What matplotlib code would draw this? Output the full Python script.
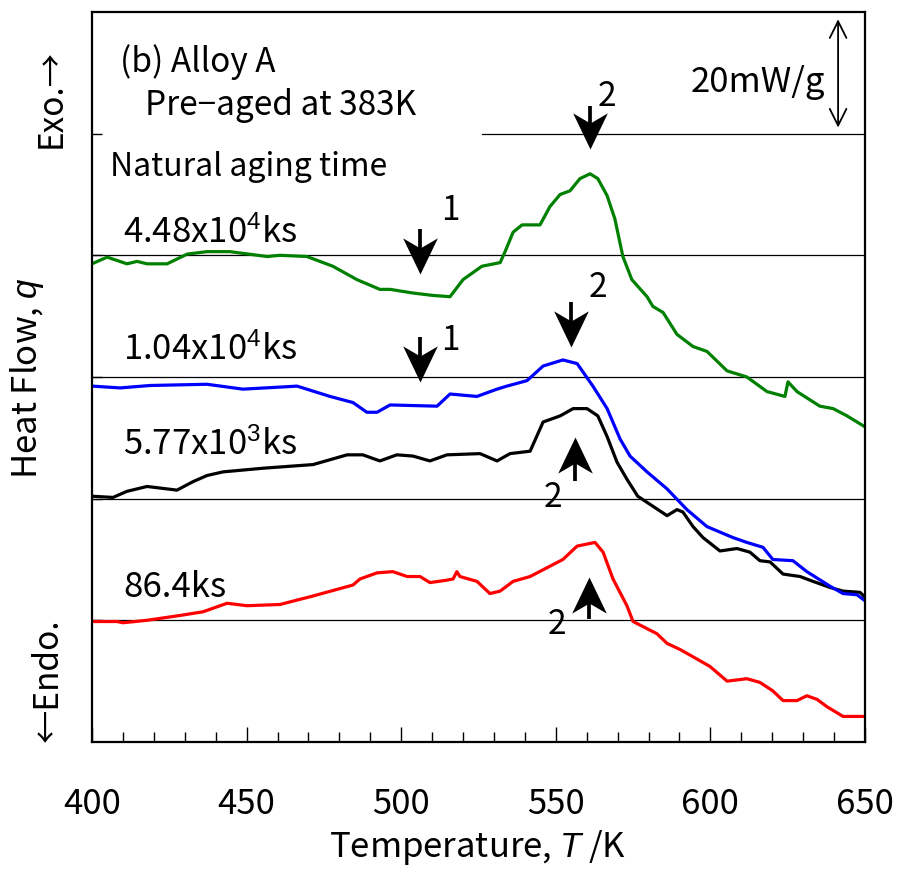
import numpy as np
import matplotlib
matplotlib.use("Agg")
import matplotlib.pyplot as plt
from matplotlib.path import Path

plt.rcParams['font.family'] = ['Noto Sans CJK JP', 'DejaVu Sans']
plt.rcParams['mathtext.fontset'] = 'custom'
plt.rcParams['mathtext.rm'] = 'Liberation Sans'
plt.rcParams['mathtext.it'] = 'Liberation Sans:italic'

# DSC traces (temperature in K, offset heat flow in arbitrary units)
t_green = [400, 404.9, 411.3, 414.6, 417.8, 424.3, 430.8, 437.2, 444.6, 456.6, 460.8, 469.5,
           477.9, 485.7, 493.1, 496.4, 503.8, 510.3, 515.8, 520.0, 526.1, 532.0, 533.6, 536.2,
           539.1, 544.9, 548.1, 551.4, 554.6, 557.8, 561.1, 563.6, 566.6, 569.1, 571.7, 574.6,
           579.5, 581.4, 584.7, 589.2, 594.4, 598.9, 605.4, 611.8, 618.3, 624.1, 625.1, 628.0,
           635.4, 639.7, 644.2, 650]
q_green = [3.93, 3.985, 3.93, 3.95, 3.93, 3.93, 4.01, 4.03, 4.03, 3.99, 4.00, 3.99,
           3.91, 3.80, 3.72, 3.72, 3.69, 3.67, 3.66, 3.80, 3.91, 3.94, 4.03, 4.19,
           4.25, 4.25, 4.40, 4.50, 4.53, 4.63, 4.67, 4.63, 4.49, 4.30, 3.99, 3.80,
           3.66, 3.58, 3.53, 3.35, 3.25, 3.21, 3.05, 3.00, 2.88, 2.84, 2.96, 2.88,
           2.76, 2.74, 2.68, 2.59]

t_blue = [400, 409.1, 418.8, 437.2, 448.8, 463.1, 466.3, 477.0, 484.4, 488.9, 492.2, 496.4,
          511.6, 515.8, 524.5, 531.0, 534.2, 540.7, 545.9, 552.3, 556.9, 562.0, 566.6, 570.8,
          574.0, 579.5, 586.0, 592.4, 598.9, 607.3, 611.8, 617.0, 620.2, 626.7, 631.2, 638.7,
          642.9, 647.4, 650]
q_blue = [2.925, 2.91, 2.93, 2.94, 2.90, 2.92, 2.925, 2.84, 2.79, 2.71, 2.71, 2.77,
          2.76, 2.86, 2.84, 2.90, 2.925, 2.97, 3.09, 3.14, 3.11, 2.925, 2.74, 2.49,
          2.35, 2.22, 2.08, 1.91, 1.77, 1.68, 1.64, 1.60, 1.50, 1.49, 1.40, 1.28,
          1.22, 1.21, 1.16]

t_black = [400, 406.8, 411.3, 417.8, 427.5, 432.7, 437.2, 442.4, 455.3, 471.5, 482.5, 487.6,
           493.1, 498.6, 503.8, 509.3, 514.8, 525.5, 531.0, 535.2, 541.7, 545.9, 551.4, 555.6,
           560.1, 563.6, 566.6, 569.8, 573.0, 576.5, 586.0, 589.2, 591.1, 594.4, 597.6, 603.1,
           608.6, 612.8, 616.0, 619.3, 623.5, 629.0, 633.2, 638.7, 642.9, 648.4, 650]
q_black = [2.02, 2.01, 2.06, 2.10, 2.07, 2.14, 2.19, 2.22, 2.25, 2.28, 2.36, 2.36,
           2.31, 2.36, 2.35, 2.31, 2.36, 2.37, 2.31, 2.37, 2.39, 2.63, 2.68, 2.74,
           2.74, 2.68, 2.51, 2.30, 2.16, 2.02, 1.86, 1.91, 1.89, 1.77, 1.68, 1.57,
           1.59, 1.56, 1.49, 1.48, 1.38, 1.36, 1.32, 1.27, 1.24, 1.23, 1.19]

t_red = [400, 408.1, 410.0, 417.8, 428.5, 435.9, 443.7, 450.1, 460.8, 471.5, 484.4, 486.7,
         492.2, 497.3, 501.9, 506.1, 509.3, 514.8, 516.8, 518.0, 519.0, 524.5, 528.7, 532.0,
         536.2, 541.7, 552.3, 556.9, 562.7, 565.3, 568.5, 573.0, 575.0, 582.7, 586.0, 590.2,
         594.4, 599.9, 605.4, 611.8, 616.0, 620.2, 623.5, 628.0, 631.2, 634.5, 637.7, 642.9,
         646.1, 650]
q_red = [0.99, 0.99, 0.98, 1.00, 1.04, 1.07, 1.14, 1.12, 1.13, 1.20, 1.29, 1.34,
         1.39, 1.40, 1.36, 1.36, 1.31, 1.33, 1.34, 1.40, 1.36, 1.32, 1.22, 1.24,
         1.32, 1.36, 1.50, 1.61, 1.64, 1.56, 1.34, 1.12, 0.99, 0.89, 0.81, 0.76,
         0.70, 0.62, 0.50, 0.52, 0.49, 0.42, 0.34, 0.34, 0.38, 0.35, 0.29, 0.21,
         0.21, 0.21]

baselines = [1, 2, 3, 4]
time_labels = ["86.4ks", "5.77x10$^{3}$ks", "1.04x10$^{4}$ks", "4.48x10$^{4}$ks"]
label_y = [1.28, 2.45, 3.23, 4.19]

# peak arrows: x, tail y, tip y, label, label x, label y
arr_x = [506.1, 561.1, 506.1, 554.9, 556.2, 560.7]
arr_tail = [4.215, 5.226, 3.33, 3.615, 2.145, 1.01]
arr_tip = [3.845, 4.873, 2.96, 3.25, 2.506, 1.356]
arr_lab = ["1", "2", "1", "2", "2", "2"]
lab_x = [515.8, 566.6, 515.8, 563.6, 549.1, 550.4]
lab_y = [4.38, 5.31, 3.31, 3.74, 2.02, 0.97]

fig = plt.figure(figsize=(9, 8.7), dpi=100)
ax = fig.add_axes([0.1022, 0.146, 0.8589, 0.8391])

for yb in baselines:
    ax.axhline(yb, color='black', lw=0.9, zorder=1)
ax.plot([526.1, 650], [5, 5], color='black', lw=0.9, zorder=1)

ax.plot(t_red, q_red, color='#ff0000', lw=2.3)
ax.plot(t_black, q_black, color='black', lw=2.3)
ax.plot(t_blue, q_blue, color='#0000ff', lw=2.3)
ax.plot(t_green, q_green, color='#008000', lw=2.3)

for lab, yl in zip(time_labels, label_y):
    ax.text(410.0, yl, lab, fontsize=25, va='center', ha='left')

ax.text(409.1, 5.60, "(b) Alloy A", fontsize=24, va='center')
ax.text(417.1, 5.24, "Pre\u2212aged at 383K", fontsize=24, va='center')
ax.text(405.8, 4.73, "Natural aging time", fontsize=23, va='center')

# notched arrow heads (tip at origin)
head_up = Path([(0, 0), (-0.48, -1), (0, -0.72), (0.48, -1), (0, 0)],
               [Path.MOVETO, Path.LINETO, Path.LINETO, Path.LINETO, Path.CLOSEPOLY])
head_down = Path([(0, 0), (-0.48, 1), (0, 0.72), (0.48, 1), (0, 0)],
                 [Path.MOVETO, Path.LINETO, Path.LINETO, Path.LINETO, Path.CLOSEPOLY])

for x, y0, y1, lab, lx, ly in zip(arr_x, arr_tail, arr_tip, arr_lab, lab_x, lab_y):
    up = y1 > y0
    yend = y1 - 0.12 if up else y1 + 0.12
    ax.plot([x, x], [y0, yend], color='black', lw=2.7, solid_capstyle='butt')
    ax.plot([x], [y1], marker=head_up if up else head_down, markersize=52,
            color='black', markeredgewidth=0, linestyle='none')
    ax.text(lx, ly, lab, fontsize=24, ha='center', va='center')

# scale bar
ax.annotate("", xy=(641.3, 5.94), xytext=(641.3, 5.05),
            arrowprops=dict(arrowstyle='<->,head_length=0.6,head_width=0.3',
                            mutation_scale=20, color='black', lw=1.3,
                            shrinkA=0, shrinkB=0))
ax.text(637.1, 5.43, "20mW/g", fontsize=25, ha='right', va='center')

ax.set_xlim(400, 650)
ax.set_ylim(0, 6)
ax.set_xticks(np.arange(400, 651, 50))
ax.set_xticks(np.arange(400, 651, 10), minor=True)
ax.set_yticks([1, 2, 3, 4, 5])
ax.set_yticklabels([])
ax.tick_params(axis='x', which='major', direction='in', length=11, width=1,
               labelsize=25, pad=32)
ax.tick_params(axis='x', which='minor', direction='in', length=7, width=1)
ax.tick_params(axis='y', which='major', direction='in', length=7, width=1)
for sp in ax.spines.values():
    sp.set_linewidth(1.6)

fig.text(478 / 900, 1 - 848 / 870, "Temperature, $\\it{T}$ /K", fontsize=25,
         ha='center', va='center')
fig.text(27 / 900, 1 - 378 / 870, "Heat Flow, $\\it{q}$", fontsize=25,
         ha='center', va='center', rotation=90)
fig.text(51 / 900, 1 - 98 / 870, "Exo.\u2192", fontsize=24,
         ha='center', va='center', rotation=90)
fig.text(48 / 900, 1 - 680 / 870, "\u2190Endo.", fontsize=24,
         ha='center', va='center', rotation=90)

fig.savefig("out.png", dpi=100)
